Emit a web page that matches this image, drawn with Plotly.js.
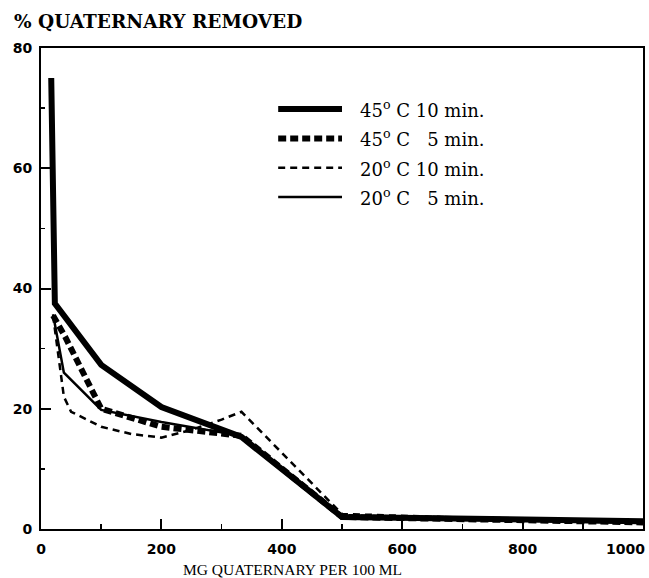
<!DOCTYPE html>
<html><head><meta charset="utf-8">
<script src="https://cdn.plot.ly/plotly-3.0.1.min.js"></script>
<style>html,body{margin:0;padding:0;background:#fff}</style>
</head><body><div id="chart" style="width:649px;height:578px"></div>
<script>
// ---- data ----
const seriesNames = ['45<sup>o</sup> C 10 min.', '45<sup>o</sup> C \u20075 min.', '20<sup>o</sup> C 10 min.', '20<sup>o</sup> C \u20075 min.'];
const x45c10 = [17, 23, 100, 200, 333, 500, 1000];
const y45c10 = [75, 37.5, 27.3, 20.3, 15.3, 2.0, 1.3];
const x45c5 = [20, 40, 100, 200, 333, 500, 1000];
const y45c5 = [35.5, 32, 20, 17, 15.5, 2.0, 1.1];
const x20c10 = [20, 38, 50, 100, 150, 200, 250, 300, 333, 500, 1000];
const y20c10 = [35.5, 22, 19.5, 17, 15.8, 15.2, 16.5, 18.2, 19.5, 2.5, 1.0];
const x20c5 = [20, 38, 100, 200, 333, 500, 1000];
const y20c5 = [35.7, 26, 19.8, 17.8, 15.5, 2.0, 1.0];
const xTickVals = [0, 200, 400, 600, 800, 1000];
const xTickText = ['0', '200', '400', '600', '800', '1000'];
const yTickVals = [0, 20, 40, 60, 80];
const yTickText = ['0', '20', '40', '60', '80'];
const yTitle = '% QUATERNARY REMOVED';
const xTitle = 'MG QUATERNARY PER 100 ML';

// ---- styles ----
const widths = [6, 6, 2.5, 2.5];
const dashes = ['solid', '8px,4px', '7px,5px', 'solid'];
const xs = [x45c10, x45c5, x20c10, x20c5];
const ys = [y45c10, y45c5, y20c10, y20c5];

const traces = xs.map((x, i) => ({
  x: x, y: ys[i], type: 'scatter', mode: 'lines', name: seriesNames[i],
  line: {color: '#000', width: widths[i], dash: dashes[i]},
  showlegend: false, hoverinfo: 'skip'
}));

const tickFont = {family: 'DejaVu Sans', size: 14, color: '#000', weight: 'bold'};

// custom legend (long line samples as in the reference)
const legX0 = 0.394, legX1 = 0.50, legTextX = 0.527, legY0 = 0.873, legDy = 0.061;
const shapes = seriesNames.map((n, i) => ({
  type: 'line', xref: 'paper', yref: 'paper',
  x0: legX0, x1: legX1, y0: legY0 - i * legDy, y1: legY0 - i * legDy,
  line: {color: '#000', width: widths[i], dash: dashes[i]}
}));
const annotations = seriesNames.map((n, i) => ({
  text: n, xref: 'paper', yref: 'paper', x: legTextX, y: legY0 - i * legDy,
  xanchor: 'left', yanchor: 'middle', showarrow: false,
  font: {family: 'DejaVu Serif', size: 18, color: '#000'}
}));
annotations.push({
  text: yTitle, xref: 'paper', yref: 'paper', x: -0.048, y: 1.056,
  xanchor: 'left', yanchor: 'middle', showarrow: false,
  font: {family: 'DejaVu Serif', size: 18.5, color: '#000', weight: 'bold'}
});
annotations.push({
  text: xTitle, xref: 'paper', yref: 'paper', x: 0.417, y: -0.085,
  xanchor: 'center', yanchor: 'middle', showarrow: false,
  font: {family: 'Liberation Serif', size: 15.5, color: '#000'}
});
// last x tick label sits right-aligned at the plot edge, as in the reference
const lastIdx = xTickVals.length - 1;
annotations.push({
  text: xTickText[lastIdx], xref: 'x', yref: 'paper', x: xTickVals[lastIdx], y: -0.0415,
  xanchor: 'right', yanchor: 'middle', xshift: 4, showarrow: false,
  font: tickFont
});

const layout = {
  width: 649, height: 578,
  margin: {l: 41, r: 6, t: 48, b: 49},
  paper_bgcolor: '#fff', plot_bgcolor: '#fff',
  showlegend: false,
  xaxis: {
    range: [0, 1000], showgrid: false, zeroline: false,
    showline: true, linecolor: '#000', linewidth: 2, mirror: true,
    ticks: 'inside', ticklen: 10, tickwidth: 2, tickcolor: '#000',
    tickmode: 'array', tickvals: xTickVals,
    ticktext: xTickText.map((t, i) => i === lastIdx ? '' : t),
    ticklabelstandoff: 6,
    minor: {dtick: 100, tick0: 0, ticks: 'inside', ticklen: 5, tickwidth: 1.5, tickcolor: '#000'},
    tickfont: tickFont
  },
  yaxis: {
    range: [0, 80], showgrid: false, zeroline: false,
    showline: true, linecolor: '#000', linewidth: 2, mirror: true,
    ticks: 'inside', ticklen: 10, tickwidth: 2, tickcolor: '#000',
    tickmode: 'array', tickvals: yTickVals, ticktext: yTickText,
    ticklabelstandoff: 4,
    minor: {dtick: 10, tick0: 0, ticks: 'inside', ticklen: 4, tickwidth: 1.5, tickcolor: '#000'},
    tickfont: tickFont
  },
  shapes: shapes,
  annotations: annotations
};
Plotly.newPlot('chart', traces, layout, {staticPlot: true, displayModeBar: false});
</script>
</body></html>
